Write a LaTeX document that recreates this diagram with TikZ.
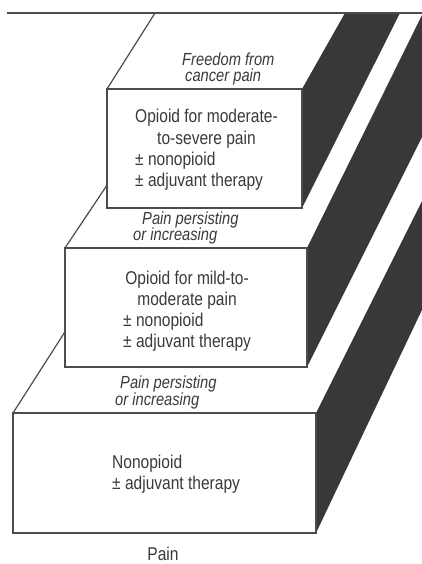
\documentclass[tikz,border=0pt]{standalone}
\usepackage{fontspec}
\setmainfont{Liberation Sans}[FakeStretch=0.84]
\definecolor{ink}{HTML}{3A3A3A}
\definecolor{riser}{HTML}{383838}
\definecolor{rim}{HTML}{4C4C4C}
\newcommand{\centred}[1]{\multicolumn{1}{@{}c@{}}{#1}}

\begin{document}
\begin{tikzpicture}[x=1pt, y=-1pt,
    tread/.style={fill=white},
    flank/.style={fill=riser},
    facade/.style={fill=white, draw=rim, line width=1.5pt},
    slant/.style={draw=rim, line width=1.2pt},
    boxtext/.style={anchor=base west, inner sep=0pt, text=ink, font=\fontsize{18.5}{21.3}\selectfont},
    steplabel/.style={anchor=base west, inner sep=0pt, text=ink, font=\itshape\fontsize{17.5}{16}\selectfont}]
  \useasboundingbox (0,0) rectangle (422,564);

  \fill[tread] (13,413) -- (269,13) -- (516,13) -- (316,413) -- cycle;
  \draw[slant] (13,413) -- (269,13);
  \fill[flank] (316,413) -- (316,533) -- (563,13) -- (516,13) -- cycle;
  \draw[facade] (13,413) rectangle (316,533);

  \fill[tread] (65,248) -- (222,13) -- (423,13) -- (307,248) -- cycle;
  \draw[slant] (65,248) -- (222,13);
  \fill[flank] (307,248) -- (307,367) -- (484,13) -- (423,13) -- cycle;
  \draw[facade] (65,248) rectangle (307,367);

  \fill[tread] (107,89) -- (155,13) -- (345,13) -- (302,89) -- cycle;
  \draw[slant] (107,89) -- (155,13);
  \fill[flank] (302,89) -- (302,208) -- (400,13) -- (345,13) -- cycle;
  \draw[facade] (107,89) rectangle (302,208);

  \draw[rim, line width=1.5pt] (7,13) -- (422,13);

  \node[steplabel] (freedom) at (182,66) {Freedom from};
  \node[steplabel] (cancerpain) at (185,82) {cancer pain};
  \node[boxtext] (strongopioid) at (135,123) {\begin{tabular}[t]{@{}l@{}}\centred{Opioid for moderate-}\\\centred{to-severe pain}\\± nonopioid\\± adjuvant therapy\end{tabular}};

  \node[steplabel] (persistupper) at (142,224) {Pain persisting};
  \node[steplabel] (increaseupper) at (133,240) {or increasing};
  \node[boxtext] (weakopioid) at (123,284) {\begin{tabular}[t]{@{}l@{}}\centred{Opioid for mild-to-}\\\centred{moderate pain}\\± nonopioid\\± adjuvant therapy\end{tabular}};

  \node[steplabel] (persistlower) at (120,388) {Pain persisting};
  \node[steplabel] (increaselower) at (115,405) {or increasing};
  \node[boxtext] (nonopioid) at (112,468) {\begin{tabular}[t]{@{}l@{}}Nonopioid\\± adjuvant therapy\end{tabular}};

  \node[boxtext, anchor=base] (pain) at (163,560) {Pain};
\end{tikzpicture}
\end{document}
